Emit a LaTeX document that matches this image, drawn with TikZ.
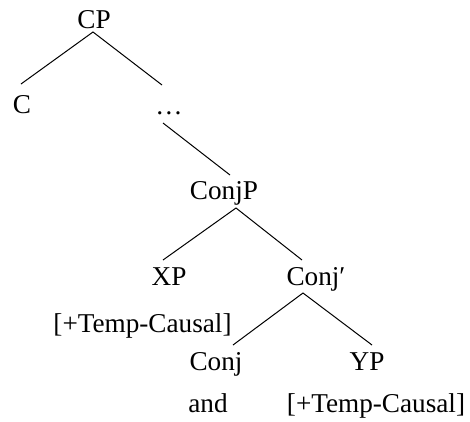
\documentclass[tikz,border=0pt]{standalone}
\usepackage{fontspec}
\setmainfont{Liberation Serif}
\begin{document}
\begin{tikzpicture}[x=1pt,y=-1pt,
  lbl/.style={anchor=base,inner sep=0pt,font=\fontsize{27.2}{32}\selectfont},
  edge/.style={draw=black,line width=1pt}]
\useasboundingbox (0,0) rectangle (470,421);
\node[lbl] (CP) at (94,28) {CP};
\node[lbl] (C) at (22,113) {C};
\node[lbl] (dots) at (169,114) {…};
\node[lbl] (ConjP) at (224,199) {ConjP};
\node[lbl] (XP) at (169,285) {XP};
\node[lbl] (XPf) at (142.5,332) {[+Temp-Causal]};
\node[lbl] (Conjbar) at (316,285) {Conj′};
\node[lbl] (Conj) at (216,370) {Conj};
\node[lbl] (and) at (208,412) {and};
\node[lbl] (YP) at (367,370) {YP};
\node[lbl] (YPf) at (376,412) {[+Temp-Causal]};
\draw[edge] ([xshift=-1pt,yshift=29pt]C.base) -- ([xshift=-1pt,yshift=-4pt]CP.base) -- ([xshift=-7pt,yshift=29pt]dots.base);
\draw[edge] ([xshift=-6pt,yshift=-9pt]dots.base) -- ([xshift=6pt,yshift=24pt]ConjP.base);
\draw[edge] ([xshift=-6pt,yshift=25pt]XP.base) -- ([xshift=12pt,yshift=-9pt]ConjP.base) -- ([xshift=-14pt,yshift=25pt]Conjbar.base);
\draw[edge] ([xshift=17pt,yshift=25pt]Conj.base) -- ([xshift=-13pt,yshift=-8pt]Conjbar.base) -- ([xshift=5pt,yshift=25pt]YP.base);
\end{tikzpicture}
\end{document}
